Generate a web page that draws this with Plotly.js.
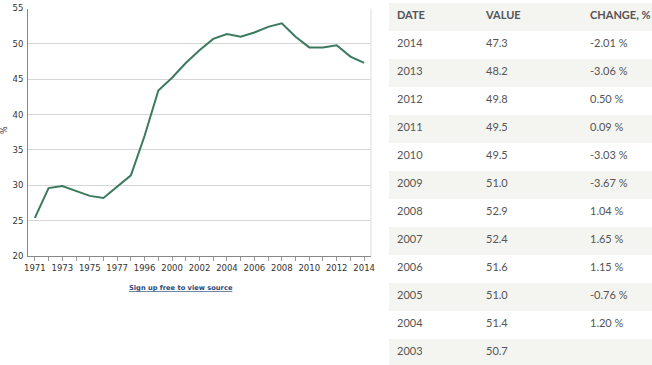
<!DOCTYPE html>
<html>
<head>
<meta charset="utf-8">
<script src="https://cdn.plot.ly/plotly-3.0.1.min.js"></script>
<style>
html,body{margin:0;padding:0;background:#fff;overflow:hidden;width:652px;height:365px;}
#chart{width:700px;height:400px;}
</style>
</head>
<body>
<div id="chart"></div>
<script>
// Chart data
var years = ["1971","1972","1973","1974","1975","1976","1977","1990","1996","1998","2000","2001","2002","2003","2004","2005","2006","2007","2008","2009","2010","2011","2012","2013","2014"];
var values = [25.4, 29.6, 29.9, 29.2, 28.5, 28.2, 29.8, 31.4, 37.0, 43.4, 45.2, 47.3, 49.1, 50.7, 51.4, 51.0, 51.6, 52.4, 52.9, 51.0, 49.5, 49.5, 49.8, 48.2, 47.3];
var yTicks = [20, 25, 30, 35, 40, 45, 50, 55];

// Table data
var tableHeader = ["DATE", "VALUE", "CHANGE, %"];
var tableDates = ["2014","2013","2012","2011","2010","2009","2008","2007","2006","2005","2004","2003"];
var tableValues = ["47.3","48.2","49.8","49.5","49.5","51.0","52.9","52.4","51.6","51.0","51.4","50.7"];
var tableChanges = ["-2.01 %","-3.06 %","0.50 %","0.09 %","-3.03 %","-3.67 %","1.04 %","1.65 %","1.15 %","-0.76 %","1.20 %",""];

var W = 700, H = 400;
var tickText = years.map(function(y, i){ return i % 2 === 0 ? y : ""; });
var rowFill = tableDates.map(function(d, i){ return i % 2 === 0 ? "#ffffff" : "#f4f4f1"; });

var lineTrace = {
  type: "scatter", mode: "lines",
  x: years, y: values,
  line: {color: "#3b7a5d", width: 2},
  hoverinfo: "x+y"
};

var tableTrace = {
  type: "table",
  domain: {x: [389/W, 1], y: [0, 1 - 3/H]},
  columnwidth: [89, 104, 118],
  header: {
    values: tableHeader,
    align: "left",
    height: 28,
    fill: {color: "#f4f4f1"},
    line: {width: 0, color: "rgba(0,0,0,0)"},
    font: {family: "Lato, 'Open Sans', sans-serif", size: 11, color: "#555555", weight: "bold"}
  },
  cells: {
    values: [tableDates, tableValues, tableChanges],
    align: "left",
    height: 28,
    fill: {color: [rowFill, rowFill, rowFill]},
    line: {width: 0, color: "rgba(0,0,0,0)"},
    font: {family: "Lato, 'Open Sans', sans-serif", size: 11, color: "#555555"}
  }
};

var layout = {
  width: W, height: H,
  margin: {l: 0, r: 0, t: 0, b: 0},
  paper_bgcolor: "#ffffff",
  plot_bgcolor: "#ffffff",
  showlegend: false,
  xaxis: {
    type: "category",
    domain: [28/W, 371/W],
    range: [-0.5, years.length - 0.5],
    tickvals: years,
    ticktext: tickText,
    ticks: "outside", ticklen: 4, tickcolor: "#999999", tickwidth: 1,
    showgrid: false,
    showline: true, linecolor: "#888888", linewidth: 1,
    tickfont: {family: "'DejaVu Sans', Verdana, sans-serif", size: 8.5, color: "#333333"},
    tickangle: 0,
    fixedrange: true
  },
  yaxis: {
    domain: [1 - 256/H, 1 - 8.5/H],
    range: [20, 55],
    tickvals: yTicks,
    showgrid: true, gridcolor: "#d6d6d6", gridwidth: 1,
    zeroline: false,
    showline: true, linecolor: "#888888", linewidth: 1,
    ticks: "", ticklabelstandoff: 2,
    tickfont: {family: "'DejaVu Sans', Verdana, sans-serif", size: 8.5, color: "#333333"},
    fixedrange: true
  },
  shapes: [{
    type: "line", xref: "x domain", yref: "y domain",
    x0: 1, x1: 1, y0: 0, y1: 1,
    line: {color: "#dddddd", width: 1}
  }],
  annotations: [{
    text: "%", xref: "paper", yref: "paper",
    x: 5/W, y: 1 - 130/H, xanchor: "center", yanchor: "middle",
    textangle: -90, showarrow: false,
    font: {family: "'DejaVu Sans', Verdana, sans-serif", size: 8, color: "#333333"}
  }, {
    text: "<b><u>Sign up free to view source</u></b>", xref: "paper", yref: "paper",
    x: 181/W, y: 1 - 288/H, xanchor: "center", yanchor: "middle",
    showarrow: false,
    font: {family: "'DejaVu Sans', Verdana, sans-serif", size: 6.7, color: "#2e4a75"}
  }]
};

Plotly.newPlot("chart", [lineTrace, tableTrace], layout, {displayModeBar: false, staticPlot: true});
</script>
</body>
</html>
